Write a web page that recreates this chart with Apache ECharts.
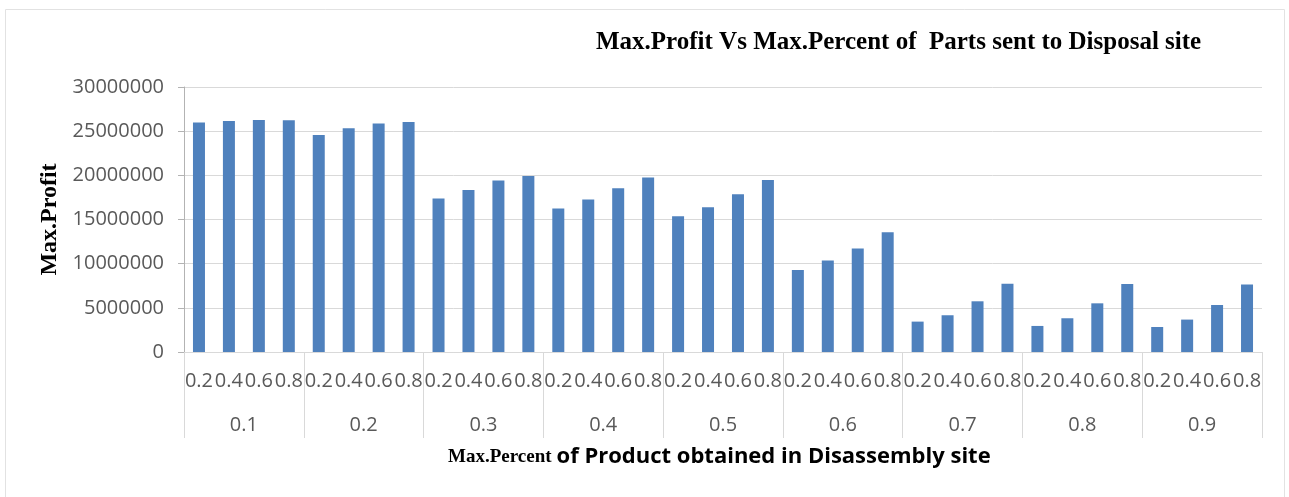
<!DOCTYPE html>
<html>
<head>
<meta charset="utf-8">
<title>Max.Profit Vs Max.Percent of Parts sent to Disposal site</title>
<script src="https://cdn.jsdelivr.net/npm/echarts@6/dist/echarts.min.js"></script>
<style>
  html, body { margin: 0; padding: 0; background: #fff; }
  #chart { width: 1289px; height: 497px; }
</style>
</head>
<body>
<div id="chart"></div>
<script>
// 外层：拆解站产品比例；内层：送往处置场的零件比例
var groups = ['0.1', '0.2', '0.3', '0.4', '0.5', '0.6', '0.7', '0.8', '0.9'];
var parts = ['0.2', '0.4', '0.6', '0.8'];
var yTicks = [0, 5000000, 10000000, 15000000, 20000000, 25000000, 30000000];

var profit01 = [25980000, 26160000, 26270000, 26240000];
var profit02 = [24570000, 25330000, 25860000, 26050000];
var profit03 = [17370000, 18350000, 19410000, 19930000];
var profit04 = [16240000, 17260000, 18540000, 19750000];
var profit05 = [15370000, 16390000, 17860000, 19480000];
var profit06 = [9290000, 10350000, 11710000, 13560000];
var profit07 = [3440000, 4160000, 5740000, 7740000];
var profit08 = [2950000, 3820000, 5510000, 7700000];
var profit09 = [2830000, 3670000, 5320000, 7630000];

var labelFont = '"Open Sans", "Liberation Sans", sans-serif';
var serifFont = '"Liberation Serif", "Times New Roman", serif';

function buildCategories() {
  var cats = [];
  for (var i = 0; i < groups.length; i++) {
    for (var j = 0; j < parts.length; j++) {
      cats.push(groups[i] + '|' + parts[j]);
    }
  }
  return cats;
}

function buildValues() {
  return [].concat(profit01, profit02, profit03, profit04, profit05,
    profit06, profit07, profit08, profit09);
}

var myChart = echarts.init(document.getElementById('chart'));

var option = {
  animation: false,
  backgroundColor: '#fff',
  title: [{
    text: 'Max.Profit Vs Max.Percent of  Parts sent to Disposal site',
    left: 596,
    top: 30,
    padding: 0,
    textStyle: {
      fontFamily: serifFont,
      fontWeight: 'bold',
      fontSize: 25,
      color: '#000'
    }
  }, {
    text: '{a|Max.Percent} {b|of Product obtained in Disassembly site}',
    left: 448,
    top: 446,
    padding: 0,
    textStyle: {
      rich: {
        a: { fontFamily: serifFont, fontWeight: 'bold', fontSize: 19, color: '#000' },
        b: { fontFamily: labelFont, fontWeight: 'bold', fontSize: 22, color: '#000' }
      }
    }
  }],
  graphic: [{
    type: 'rect',
    shape: { x: 5.5, y: 9.5, width: 1279, height: 520 },
    style: { fill: 'none', stroke: '#e2e2e2', lineWidth: 1 },
    silent: true
  }],
  grid: {
    left: 184,
    right: 27,
    top: 87,
    bottom: 145
  },
  xAxis: [{
    type: 'category',
    data: buildCategories(),
    position: 'bottom',
    axisLine: { lineStyle: { color: '#d9d9d9' } },
    axisTick: { show: false },
    axisLabel: {
      interval: 0,
      margin: 19,
      fontFamily: labelFont,
      fontSize: 20,
      color: '#595959',
      formatter: function(val) {
        return val.split('|')[1];
      }
    }
  }, {
    type: 'category',
    data: groups,
    position: 'bottom',
    axisLine: { show: false },
    axisTick: {
      show: true,
      length: 86,
      lineStyle: { color: '#d9d9d9' }
    },
    axisLabel: {
      interval: 0,
      margin: 63,
      fontFamily: labelFont,
      fontSize: 20,
      color: '#595959'
    }
  }],
  yAxis: {
    type: 'value',
    min: yTicks[0],
    max: yTicks[yTicks.length - 1],
    interval: yTicks[1] - yTicks[0],
    name: 'Max.Profit',
    nameLocation: 'middle',
    nameGap: 117,
    nameTextStyle: {
      fontFamily: serifFont,
      fontWeight: 'bold',
      fontSize: 24,
      color: '#000'
    },
    axisLine: { show: true, lineStyle: { color: '#b3b3b3' } },
    axisTick: { show: true, length: 6, lineStyle: { color: '#b3b3b3' } },
    axisLabel: {
      margin: 20,
      fontFamily: labelFont,
      fontSize: 20,
      color: '#595959',
      formatter: function(val) {
        return String(val);
      }
    },
    splitLine: { lineStyle: { color: '#d9d9d9' } }
  },
  series: [{
    type: 'bar',
    xAxisIndex: 0,
    data: buildValues(),
    barWidth: 12,
    itemStyle: { color: '#4f81bd' }
  }]
};

myChart.setOption(option);
</script>
</body>
</html>
